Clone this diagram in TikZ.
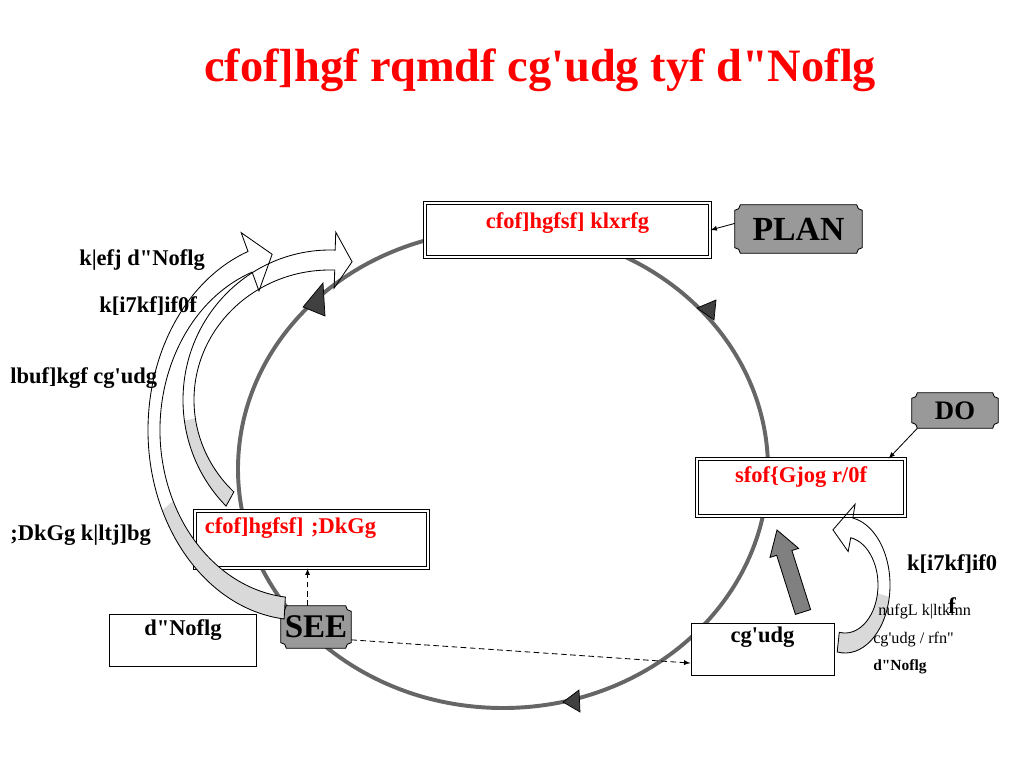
\documentclass[tikz,border=0pt]{standalone}
\usepackage{fontspec}
\setmainfont{Liberation Serif}[Ligatures=TeXOff]
\usetikzlibrary{calc,backgrounds}

% plaque with notched corners round a named node
\newcommand{\plaque}[1]{%
  \filldraw[fill=black!40, line width=0.6pt] ([xshift=4pt]#1.north west) -- ([xshift=-4pt]#1.north east)
    arc[start angle=180, end angle=270, radius=4pt] -- ([yshift=4pt]#1.south east)
    arc[start angle=90, end angle=180, radius=4pt] -- ([xshift=4pt]#1.south west)
    arc[start angle=0, end angle=90, radius=4pt] -- ([yshift=-4pt]#1.north west)
    arc[start angle=270, end angle=360, radius=4pt] -- cycle;}

\begin{document}
\begin{tikzpicture}[x=0.025cm, y=-0.025cm,
  box/.style={draw, fill=white, line width=0.6pt, double, double distance=1.4pt, inner sep=0pt},
  sbox/.style={draw, fill=white, line width=0.7pt, inner sep=0pt},
  redtxt/.style={text=red, font=\fontsize{16}{19}\selectfont\bfseries},
  lbl/.style={font=\fontsize{16}{19}\selectfont\bfseries, inner sep=0pt},
  small/.style={font=\fontsize{11.5}{14}\selectfont, inner sep=0pt},
  pointer/.style={-latex, line width=0.6pt},
  band/.style={draw, line width=0.6pt},
  bandgray/.style={fill=black!15}]
\useasboundingbox (0,0) rectangle (1024,768);

\node[text=red, font=\fontsize{33}{38}\selectfont\bfseries, anchor=base west, inner sep=0pt] (title) at (204,82) {cfof]hgf rqmdf cg'udg tyf d"Noflg};

% boxes
\node[box, redtxt, minimum width=7.125cm, text height=0.625cm, text depth=0.725cm] (planbox) at (567.5,230) {cfof]hgfsf] klxrfg};
\node[box, redtxt, minimum width=5.2cm, text height=0.575cm, text depth=0.85cm] (dobox) at (801,487.5) {sfof\{Gjog r/0f};
\node[box, redtxt, text width=5.325cm, inner xsep=0.25cm, align=left, text height=0.55cm, text depth=0.875cm] (seebox) at (311.5,539.5) {cfof]hgfsf] ;DkGg};
\node[sbox, lbl, minimum width=3.65cm, text height=0.525cm, text depth=0.775cm] (nof) at (183,640) {d"Noflg};
\node[sbox, lbl, minimum width=3.575cm, text height=0.475cm, text depth=0.825cm] (cgudg) at (762.5,649) {cg'udg};

\node[font=\fontsize{24}{24}\selectfont\bfseries, inner sep=0pt, minimum width=3.175cm, minimum height=1.2cm] (plan) at (798.5,229) {PLAN};
\node[font=\fontsize{19}{19}\selectfont\bfseries, inner sep=0pt, minimum width=2.15cm, minimum height=0.875cm] (do) at (955,410.5) {DO};
\node[font=\fontsize{23.5}{24}\selectfont\bfseries, inner sep=0pt, minimum width=1.75cm, minimum height=1.05cm] (see) at (316,627) {SEE};

\begin{scope}[on background layer]
  \draw[black!60, line width=2.8pt] (503,469) ellipse [x radius=265, y radius=239];
  \filldraw[fill=black!75, line width=0.5pt] (323,283) -- (303,307) -- (325,316) -- cycle;
  \filldraw[fill=black!75, line width=0.5pt] (716,300) -- (697,308) -- (714,320) -- cycle;
  \filldraw[fill=black!75, line width=0.5pt] (563,702) -- (579,690) -- (580,712) -- cycle;
  \plaque{plan}
  \plaque{do}
  \plaque{see}
\end{scope}

\draw[pointer] (plan.175) -- (planbox.east);
\draw[pointer] ([xshift=4pt]do.south west) -- ([xshift=-12pt]dobox.north east);
\draw[pointer, dash pattern=on 4pt off 2.5pt] ([xshift=-6pt]see.north) -- ([xshift=-6pt]see.north |- seebox.south);
\draw[pointer, dash pattern=on 4pt off 2.5pt] (see.-20) -- ([yshift=-10pt]cgudg.west);

% big arrows
\coordinate (c1) at (300,430);
\coordinate (c2) at (330,400);
\coordinate (c3) at (845,585);
\fill[bandgray] ($(c1)+(96:152 and 190)$) arc[start angle=96, end angle=155, x radius=152, y radius=190]
  -- ($(c1)+(155:140 and 168)$) arc[start angle=155, end angle=96, x radius=140, y radius=168] -- cycle;
\draw[band] ($(c1)+(96:152 and 190)$) arc[start angle=96, end angle=250, x radius=152, y radius=190]
  -- ($(c1)+(250:172 and 210)$) -- ($(c1)+(259:146 and 179)$) -- ($(c1)+(250:120 and 148)$)
  -- ($(c1)+(250:140 and 168)$) arc[start angle=250, end angle=96, x radius=140, y radius=168] -- cycle;
\fill[bandgray] ($(c2)+(135:147 and 150)$) arc[start angle=135, end angle=172, x radius=147, y radius=150]
  -- ($(c2)+(172:136 and 130)$) arc[start angle=172, end angle=135, x radius=136, y radius=130] -- cycle;
\draw[band] ($(c2)+(135:147 and 150)$) arc[start angle=135, end angle=272, x radius=147, y radius=150]
  -- ($(c2)+(272:165 and 168)$) -- ($(c2)+(279:141 and 140)$) -- ($(c2)+(272:118 and 112)$)
  -- ($(c2)+(272:136 and 130)$) arc[start angle=272, end angle=135, x radius=136, y radius=130] -- cycle;
\fill[bandgray] ($(c3)+(100:45 and 68)$) arc[start angle=100, end angle=10, x radius=45, y radius=68]
  -- ($(c3)+(10:33 and 48)$) arc[start angle=10, end angle=100, x radius=33, y radius=48] -- cycle;
\draw[band] ($(c3)+(100:45 and 68)$) arc[start angle=100, end angle=-80, x radius=45, y radius=68]
  -- ($(c3)+(-80:58 and 82)$) -- ($(c3)+(-108:39 and 58)$) -- ($(c3)+(-80:18 and 34)$)
  -- ($(c3)+(-80:33 and 48)$) arc[start angle=-80, end angle=100, x radius=33, y radius=48] -- cycle;
\filldraw[fill=black!50, line width=0.6pt] (810.6,609.6) -- (791.9,550.5) -- (798.6,548.4) -- (777,530)
  -- (770,557.4) -- (776.7,555.3) -- (795.4,614.4) -- cycle;

% side texts
\node[lbl, anchor=base west] (effect) at (79,265) {k|efj d"Noflg};
\node[lbl, anchor=base west] (rep1) at (99,312) {k[i7kf]if0f};
\node[lbl, anchor=base west] (guide) at (10,383) {lbuf]kgf cg'udg};
\node[lbl, anchor=base west] (rep2) at (10,540) {;DkGg k|ltj]bg};
\node[lbl, align=center, font=\fontsize{16}{30}\selectfont\bfseries] (rep3) at (952,584) {k[i7kf]if0\\f};
\node[small, anchor=base west] (res1) at (878,615) {nufgL k|ltkmn};
\node[small, anchor=base west] (res2) at (873,643) {cg'udg / rfn"};
\node[small, font=\fontsize{11}{14}\selectfont\bfseries, anchor=base west] (res3) at (873,670) {d"Noflg};
\end{tikzpicture}
\end{document}
